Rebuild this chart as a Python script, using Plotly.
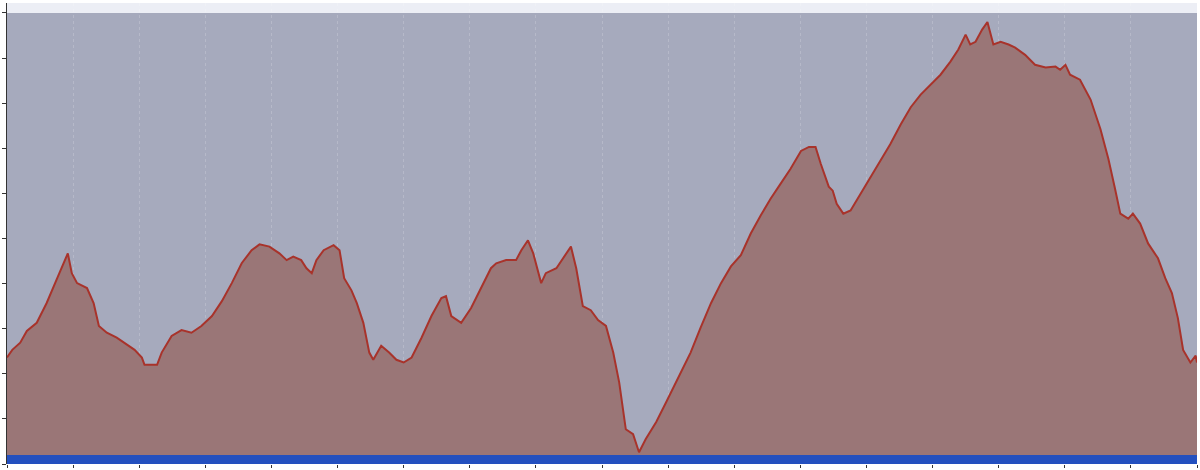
import plotly.graph_objects as go

# distance (km) along the profile
distance = [0.00, 0.08, 0.20, 0.30, 0.45, 0.60, 0.76, 0.83, 0.92, 0.98, 1.06, 1.21, 1.31, 1.39,
            1.51, 1.66, 1.81, 1.93, 2.04, 2.08, 2.27, 2.34, 2.49, 2.64, 2.79, 2.94, 3.10, 3.25,
            3.40, 3.55, 3.70, 3.82, 3.97, 4.12, 4.23, 4.33, 4.45, 4.53, 4.61, 4.68, 4.79, 4.94,
            5.03, 5.10, 5.21, 5.29, 5.39, 5.48, 5.54, 5.66, 5.78, 5.89, 6.00, 6.12, 6.27, 6.42,
            6.57, 6.64, 6.72, 6.87, 7.02, 7.17, 7.32, 7.40, 7.55, 7.70, 7.78, 7.88, 7.96, 8.08,
            8.15, 8.31, 8.43, 8.53, 8.61, 8.71, 8.83, 8.94, 9.06, 9.17, 9.26, 9.36, 9.47, 9.56,
            9.66, 9.82, 9.97, 10.12, 10.34, 10.49, 10.65, 10.80, 10.95, 11.10, 11.25, 11.40,
            11.55, 11.70, 11.85, 12.01, 12.13, 12.23, 12.31, 12.43, 12.49, 12.55, 12.65, 12.76,
            12.91, 13.06, 13.21, 13.36, 13.52, 13.67, 13.82, 13.97, 14.12, 14.27, 14.39, 14.50,
            14.57, 14.65, 14.75, 14.83, 14.92, 15.03, 15.15, 15.25, 15.40, 15.55, 15.71, 15.86,
            15.93, 16.01, 16.08, 16.23, 16.39, 16.54, 16.66, 16.76, 16.84, 16.96, 17.03, 17.14,
            17.26, 17.41, 17.52, 17.62, 17.71, 17.79, 17.90, 17.98, 18.00]

# elevation (axis units)
elevation = [2.36, 2.53, 2.69, 2.95, 3.13, 3.57, 4.12, 4.38, 4.67, 4.23, 4.01, 3.90, 3.57, 3.06,
             2.91, 2.80, 2.64, 2.53, 2.36, 2.20, 2.20, 2.47, 2.84, 2.97, 2.91, 3.06, 3.28, 3.61,
             4.01, 4.45, 4.74, 4.87, 4.82, 4.67, 4.52, 4.60, 4.52, 4.34, 4.23, 4.52, 4.74, 4.85,
             4.74, 4.12, 3.85, 3.57, 3.13, 2.47, 2.31, 2.62, 2.47, 2.31, 2.25, 2.36, 2.80, 3.28,
             3.68, 3.72, 3.28, 3.13, 3.46, 3.90, 4.34, 4.45, 4.52, 4.52, 4.74, 4.96, 4.67, 4.01,
             4.23, 4.34, 4.60, 4.82, 4.34, 3.50, 3.41, 3.19, 3.06, 2.47, 1.81, 0.77, 0.66, 0.26,
             0.55, 0.93, 1.37, 1.81, 2.47, 3.02, 3.57, 4.01, 4.38, 4.63, 5.11, 5.51,
             5.88, 6.21, 6.54, 6.94, 7.03, 7.03, 6.65, 6.15, 6.06, 5.77, 5.55, 5.62,
             5.99, 6.37, 6.72, 7.09, 7.53, 7.91, 8.19, 8.41, 8.63, 8.92, 9.19, 9.52,
             9.30, 9.36, 9.63, 9.80, 9.30, 9.36, 9.30, 9.23, 9.07, 8.85, 8.79, 8.81,
             8.74, 8.85, 8.63, 8.52, 8.08, 7.42, 6.76, 6.10, 5.55, 5.44, 5.55, 5.33,
             4.89, 4.56, 4.12, 3.79, 3.24, 2.53, 2.25, 2.40, 2.25]

x_ticks = list(range(0, 19))
y_ticks = list(range(0, 11))
x_range = [0, 18]
y_range = [0, 10.22]
panel_top = 10
strip_top = 0.2

fig = go.Figure()
fig.add_trace(go.Scatter(
    x=distance, y=elevation, mode="lines", fill="tozeroy",
    fillcolor="#9a7677", line=dict(color="#a8332b", width=2),
    hoverinfo="skip", showlegend=False,
))

fig.add_shape(type="rect", xref="paper", yref="y", x0=0, x1=1, y0=0, y1=panel_top,
              fillcolor="#a6aabd", line_width=0, layer="below")
fig.add_shape(type="rect", xref="paper", yref="y", x0=0, x1=1, y0=0, y1=strip_top,
              fillcolor="#2350bf", line_width=0, layer="above")

fig.update_layout(
    width=1200, height=470,
    margin=dict(l=5, r=3, t=3, b=3),
    paper_bgcolor="white", plot_bgcolor="#eceef5",
    showlegend=False,
    xaxis=dict(range=x_range, tickvals=x_ticks, showticklabels=False,
               ticks="outside", ticklen=3, tickcolor="#333", showgrid=True,
               gridcolor="rgba(255,255,255,0.18)", griddash="dot", gridwidth=1,
               zeroline=False, showline=False, layer="above traces", fixedrange=True),
    yaxis=dict(range=y_range, tickvals=y_ticks, showticklabels=False,
               ticks="outside", ticklen=4, tickcolor="#333", showgrid=False,
               zeroline=False, showline=True, linecolor="#333", linewidth=1,
               fixedrange=True),
)

fig.write_html(
    "out.html",
    config={"displayModeBar": False},
    post_script="document.body.style.margin='0';document.body.style.overflow='hidden';",
)
